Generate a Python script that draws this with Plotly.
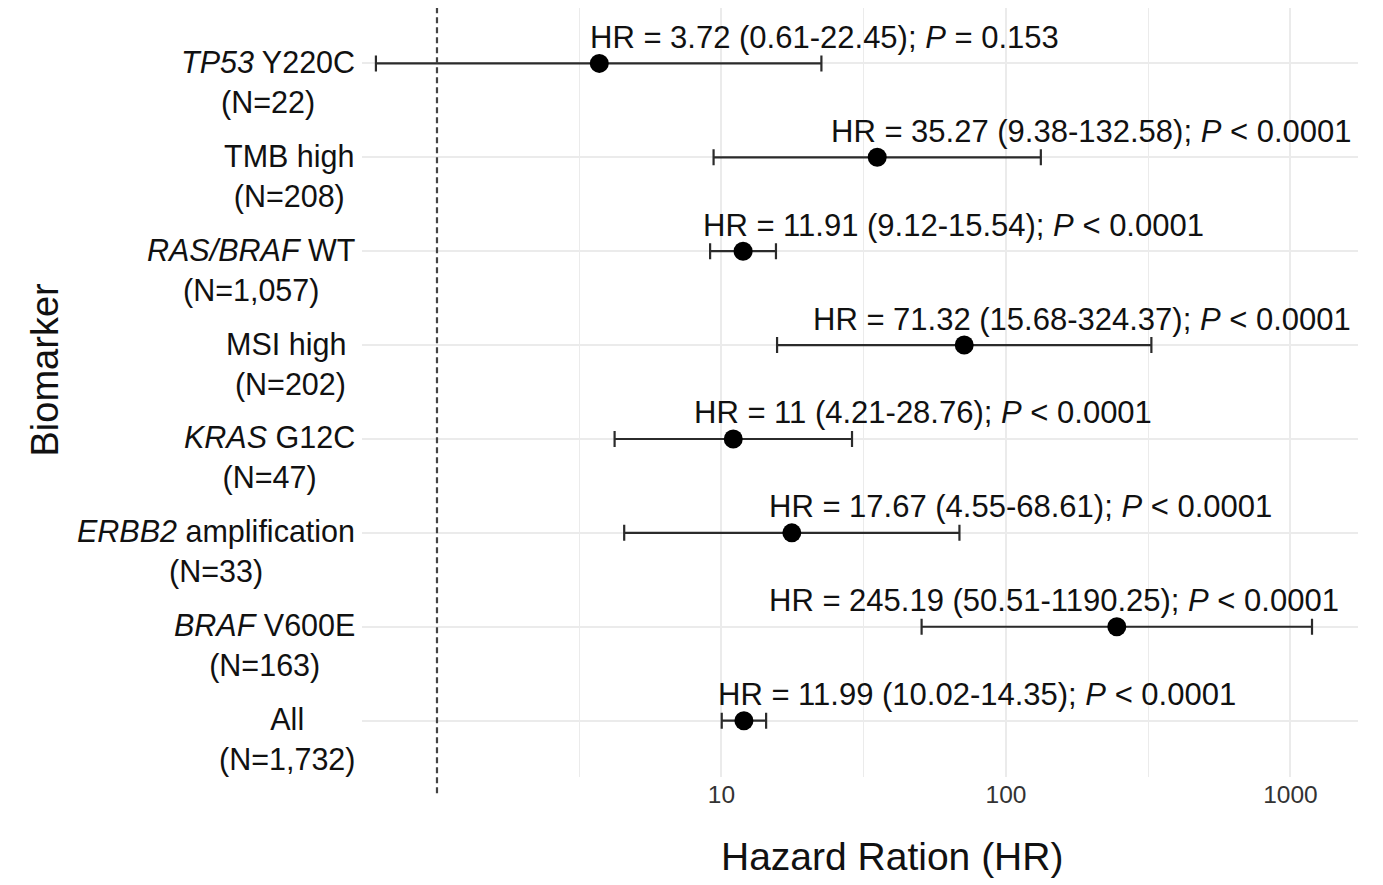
import math
import plotly.graph_objects as go

# ---- data ----
row_keys = ["TP53", "TMB", "RASBRAF", "MSI", "KRAS", "ERBB2", "BRAF", "ALL"]
biomarker_labels = [
    "<i>TP53</i> Y220C",
    "TMB high",
    "<i>RAS/BRAF</i> WT",
    "MSI high\u00a0",
    "<i>KRAS</i> G12C",
    "<i>ERBB2</i> amplification",
    "<i>BRAF</i> V600E",
    "All",
]
n_patients = ["22", "208", "1,057", "202", "47", "33", "163", "1,732"]
hr = [3.72, 35.27, 11.91, 71.32, 11, 17.67, 245.19, 11.99]
ci_low = [0.61, 9.38, 9.12, 15.68, 4.21, 4.55, 50.51, 10.02]
ci_high = [22.45, 132.58, 15.54, 324.37, 28.76, 68.61, 1190.25, 14.35]
p_text = ["= 0.153", "< 0.0001", "< 0.0001", "< 0.0001", "< 0.0001", "< 0.0001", "< 0.0001", "< 0.0001"]
# x (HR scale) where each annotation text starts
label_x = [3.40, 23.9, 8.45, 20.6, 7.86, 14.4, 14.45, 9.54]

x_tick_vals = [10, 100, 1000]
x_tick_text = ["10", "100", "1000"]

FONT = "Liberation Sans, Arial, Helvetica, sans-serif"
GRID = "#EBEBEB"
TEXT = "#111111"

fig = go.Figure()

fig.add_trace(go.Scatter(
    x=hr,
    y=row_keys,
    mode="markers",
    marker=dict(size=19, color="black"),
    error_x=dict(
        type="data",
        symmetric=False,
        array=[h - m for h, m in zip(ci_high, hr)],
        arrayminus=[m - l for m, l in zip(hr, ci_low)],
        color="#2b2b2b",
        thickness=2.2,
        width=8,
    ),
    showlegend=False,
    hoverinfo="skip",
))

annotations = []
for key, lab, n in zip(row_keys, biomarker_labels, n_patients):
    annotations.append(dict(
        xref="paper", yref="y", x=0, y=key, xshift=-5, yshift=-19,
        xanchor="right", yanchor="middle", align="center",
        text=f"{lab}<br>(N={n})", showarrow=False,
        font=dict(family=FONT, size=30.5, color=TEXT),
    ))

for key, h, lo, hi, p, lx in zip(row_keys, hr, ci_low, ci_high, p_text, label_x):
    annotations.append(dict(
        xref="x", yref="y", x=math.log10(lx), y=key, yshift=26,
        xanchor="left", yanchor="middle",
        text=f"HR = {h:g} ({lo:g}-{hi:g}); <i>P</i> {p}", showarrow=False,
        font=dict(family=FONT, size=31, color=TEXT),
    ))

annotations.append(dict(
    xref="paper", yref="paper", x=0.532, y=-0.104,
    xanchor="center", yanchor="middle", text="Hazard Ration (HR)",
    showarrow=False, font=dict(family=FONT, size=39, color=TEXT),
))
annotations.append(dict(
    xref="paper", yref="paper", x=-0.318, y=0.529, textangle=-90,
    xanchor="center", yanchor="middle", text="Biomarker",
    showarrow=False, font=dict(family=FONT, size=38, color=TEXT),
))

fig.add_shape(
    type="line", xref="x", yref="paper", x0=1, x1=1, y0=-0.021, y1=1,
    line=dict(color="#444444", width=2.2, dash="6px,4px"), layer="above",
)

# page body adds an 8px offset; figure sized so the plot area lands where the reference has it
fig.update_layout(
    width=1375, height=877,
    margin=dict(l=354, r=25, t=0, b=108),
    paper_bgcolor="white", plot_bgcolor="white",
    annotations=annotations,
    font=dict(family=FONT),
)
fig.update_xaxes(
    type="log", range=[-0.2636, 3.2373],
    tickvals=x_tick_vals, ticktext=x_tick_text,
    tickfont=dict(family=FONT, size=24.5, color="#333333"),
    ticks="", 
    showgrid=True, gridcolor=GRID, gridwidth=1.5,
    minor=dict(tickvals=[10 ** 0.5, 10 ** 1.5, 10 ** 2.5], showgrid=True, gridcolor=GRID, gridwidth=1.2),
    zeroline=False, showline=False,
)
fig.update_yaxes(
    type="category", categoryorder="array", categoryarray=list(reversed(row_keys)),
    range=[-0.6, 7.59], showticklabels=False,
    showgrid=True, gridcolor=GRID, gridwidth=1.5,
    zeroline=False, showline=False, ticks="",
)

fig.write_html("out.html")
